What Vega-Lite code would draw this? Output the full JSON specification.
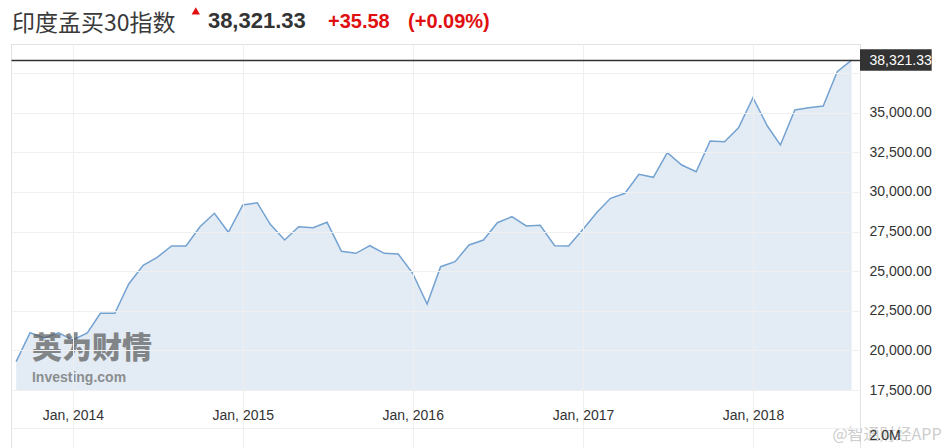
{
  "$schema": "https://vega.github.io/schema/vega-lite/v6.json",
  "width": 849,
  "height": 404,
  "autosize": {"type": "none"},
  "padding": {"left": 11, "top": 44, "right": 87, "bottom": 0},
  "background": "white",
  "config": {
    "view": {"stroke": "#e2e2e2", "strokeWidth": 1},
    "font": "Liberation Sans"
  },
  "datasets": {
    "one": [{}],
    "sensex": [
      {"date": "2013-09-01", "close": 19290},
      {"date": "2013-10-01", "close": 21116},
      {"date": "2013-11-01", "close": 20781},
      {"date": "2013-12-01", "close": 21116},
      {"date": "2014-01-01", "close": 20655},
      {"date": "2014-02-01", "close": 21097},
      {"date": "2014-03-01", "close": 22340},
      {"date": "2014-04-01", "close": 22340},
      {"date": "2014-05-01", "close": 24189},
      {"date": "2014-06-01", "close": 25369},
      {"date": "2014-07-01", "close": 25874},
      {"date": "2014-08-01", "close": 26587},
      {"date": "2014-09-01", "close": 26587},
      {"date": "2014-10-01", "close": 27805},
      {"date": "2014-11-01", "close": 28651},
      {"date": "2014-12-01", "close": 27452},
      {"date": "2015-01-01", "close": 29175},
      {"date": "2015-02-01", "close": 29320},
      {"date": "2015-03-01", "close": 27957},
      {"date": "2015-04-01", "close": 26966},
      {"date": "2015-05-01", "close": 27805},
      {"date": "2015-06-01", "close": 27742},
      {"date": "2015-07-01", "close": 28083},
      {"date": "2015-08-01", "close": 26253},
      {"date": "2015-09-01", "close": 26127},
      {"date": "2015-10-01", "close": 26606},
      {"date": "2015-11-01", "close": 26127},
      {"date": "2015-12-01", "close": 26083},
      {"date": "2016-01-01", "close": 24865},
      {"date": "2016-02-01", "close": 22927},
      {"date": "2016-03-01", "close": 25281},
      {"date": "2016-04-01", "close": 25597},
      {"date": "2016-05-01", "close": 26651},
      {"date": "2016-06-01", "close": 26966},
      {"date": "2016-07-01", "close": 28058},
      {"date": "2016-08-01", "close": 28437},
      {"date": "2016-09-01", "close": 27850},
      {"date": "2016-10-01", "close": 27894},
      {"date": "2016-11-01", "close": 26606},
      {"date": "2016-12-01", "close": 26587},
      {"date": "2017-01-01", "close": 27641},
      {"date": "2017-02-01", "close": 28752},
      {"date": "2017-03-01", "close": 29598},
      {"date": "2017-04-01", "close": 29913},
      {"date": "2017-05-01", "close": 31112},
      {"date": "2017-06-01", "close": 30923},
      {"date": "2017-07-01", "close": 32476},
      {"date": "2017-08-01", "close": 31699},
      {"date": "2017-09-01", "close": 31277},
      {"date": "2017-10-01", "close": 33214},
      {"date": "2017-11-01", "close": 33170},
      {"date": "2017-12-01", "close": 34053},
      {"date": "2018-01-01", "close": 35947},
      {"date": "2018-02-01", "close": 34161},
      {"date": "2018-03-01", "close": 32962},
      {"date": "2018-04-01", "close": 35170},
      {"date": "2018-05-01", "close": 35316},
      {"date": "2018-06-01", "close": 35423},
      {"date": "2018-07-01", "close": 37588},
      {"date": "2018-08-01", "close": 38321.33}
    ]
  },
  "layer": [
    {
      "data": {"name": "sensex"},
      "mark": {"type": "area", "color": "#e3ecf5", "opacity": 1},
      "encoding": {
        "x": {
          "field": "date",
          "type": "temporal",
          "title": null,
          "scale": {
            "type": "utc",
            "domain": [
              {"year": 2013, "month": 8, "date": 21, "utc": true},
              {"year": 2018, "month": 8, "date": 19, "utc": true}
            ],
            "nice": false
          },
          "axis": {
            "zindex": 1,
            "values": [
              {"year": 2014, "month": 1, "date": 1, "utc": true},
              {"year": 2015, "month": 1, "date": 1, "utc": true},
              {"year": 2016, "month": 1, "date": 1, "utc": true},
              {"year": 2017, "month": 1, "date": 1, "utc": true},
              {"year": 2018, "month": 1, "date": 1, "utc": true}
            ],
            "format": "%b, %Y",
            "domain": false,
            "ticks": false,
            "grid": true,
            "gridColor": "#efefef",
            "labelFontSize": 14,
            "labelColor": "#333",
            "labelBaseline": "middle",
            "labelPadding": -33,
            "labelFlush": false,
            "labelOverlap": false
          }
        },
        "y": {
          "field": "close",
          "type": "quantitative",
          "title": null,
          "scale": {"domain": [13840, 39336], "nice": false, "zero": false},
          "axis": {
            "orient": "right",
            "zindex": 1,
            "values": [15100, 17500, 20000, 22500, 25000, 27500, 30000, 32500, 35000, 37500, 38321.33],
            "labelExpr": "datum.value > 38000 ? format(datum.value, ',.2f') : (datum.value == 37500 ? '' : (datum.value < 16000 ? '2.0M' : format(datum.value, ',.2f')))",
            "domain": false,
            "ticks": false,
            "grid": true,
            "gridColor": {"condition": {"test": "datum.value > 38000", "value": "#333333"}, "value": "#f0f0f0"},
            "gridWidth": {"condition": {"test": "datum.value > 38000", "value": 1.5}, "value": 1},
            "labelColor": {"condition": {"test": "datum.value > 38000", "value": "#ffffff"}, "value": "#333333"},
            "labelFontSize": 14,
            "labelAlign": "left",
            "labelBaseline": {"condition": {"test": "datum.value < 16000", "value": "top"}, "value": "middle"},
            "labelPadding": 9,
            "labelOverlap": false,
            "labelFlush": false
          }
        },
        "y2": {"datum": 17500}
      }
    },
    {
      "data": {"name": "sensex"},
      "mark": {"type": "line", "color": "#74a2d1", "strokeWidth": 1.5},
      "encoding": {
        "x": {"field": "date", "type": "temporal"},
        "y": {"field": "close", "type": "quantitative"}
      }
    },
    {
      "data": {"name": "one"},
      "mark": {"type": "text", "text": "英为财情", "font": "Noto Sans CJK SC", "fontWeight": 900, "fontSize": 30, "color": "#5a5a5a", "opacity": 0.7, "align": "left", "baseline": "middle", "clip": false},
      "encoding": {
        "x": {"datum": {"year": 2013, "month": 10, "date": 5, "utc": true}, "type": "temporal"},
        "y": {"datum": 20060, "type": "quantitative"}
      }
    },
    {
      "data": {"name": "one"},
      "mark": {"type": "text", "text": "Investing.com", "fontWeight": "bold", "fontSize": 14, "color": "#666666", "opacity": 0.7, "align": "left", "baseline": "middle", "clip": false},
      "encoding": {
        "x": {"datum": {"year": 2013, "month": 10, "date": 5, "utc": true}, "type": "temporal"},
        "y": {"datum": 18230, "type": "quantitative"}
      }
    },
    {
      "data": {"name": "one"},
      "mark": {"type": "rect", "color": "#333333", "clip": false},
      "encoding": {
        "x": {"datum": {"year": 2018, "month": 8, "date": 19, "utc": true}, "type": "temporal"},
        "x2": {"datum": {"year": 2019, "month": 1, "date": 20, "utc": true}},
        "y": {"datum": 39002, "type": "quantitative"},
        "y2": {"datum": 37651}
      }
    },
    {
      "data": {"name": "one"},
      "mark": {"type": "text", "text": "印度孟买30指数", "font": "Noto Sans CJK SC", "fontSize": 23, "color": "#3a3a3a", "align": "left", "baseline": "alphabetic", "clip": false},
      "encoding": {
        "x": {"datum": {"year": 2013, "month": 8, "date": 23, "utc": true}, "type": "temporal"},
        "y": {"datum": 40175, "type": "quantitative"}
      }
    },
    {
      "data": {"name": "one"},
      "mark": {"type": "point", "shape": "triangle-up", "filled": true, "size": 70, "color": "#e01010", "opacity": 1, "clip": false},
      "encoding": {
        "x": {"datum": {"year": 2014, "month": 9, "date": 22, "utc": true}, "type": "temporal"},
        "y": {"datum": 41419, "type": "quantitative"}
      }
    },
    {
      "data": {"name": "one"},
      "mark": {"type": "text", "text": "38,321.33", "fontWeight": "bold", "fontSize": 22, "color": "#333333", "align": "left", "baseline": "alphabetic", "clip": false},
      "encoding": {
        "x": {"datum": {"year": 2014, "month": 10, "date": 18, "utc": true}, "type": "temporal"},
        "y": {"datum": 40365, "type": "quantitative"}
      }
    },
    {
      "data": {"name": "one"},
      "mark": {"type": "text", "text": "+35.58", "fontWeight": "bold", "fontSize": 20, "color": "#e01010", "align": "left", "baseline": "alphabetic", "clip": false},
      "encoding": {
        "x": {"datum": {"year": 2015, "month": 7, "date": 3, "utc": true}, "type": "temporal"},
        "y": {"datum": 40365, "type": "quantitative"}
      }
    },
    {
      "data": {"name": "one"},
      "mark": {"type": "text", "text": "(+0.09%)", "fontWeight": "bold", "fontSize": 20, "color": "#e01010", "align": "left", "baseline": "alphabetic", "clip": false},
      "encoding": {
        "x": {"datum": {"year": 2015, "month": 12, "date": 22, "utc": true}, "type": "temporal"},
        "y": {"datum": 40365, "type": "quantitative"}
      }
    },
    {
      "data": {"name": "one"},
      "mark": {"type": "text", "text": "@智通财经APP", "font": "Noto Sans CJK SC", "fontSize": 16, "color": "#c8c8c8", "opacity": 0.9, "align": "center", "baseline": "middle", "clip": false},
      "encoding": {
        "x": {"datum": {"year": 2018, "month": 10, "date": 16, "utc": true}, "type": "temporal"},
        "y": {"datum": 14660, "type": "quantitative"}
      }
    }
  ]
}
